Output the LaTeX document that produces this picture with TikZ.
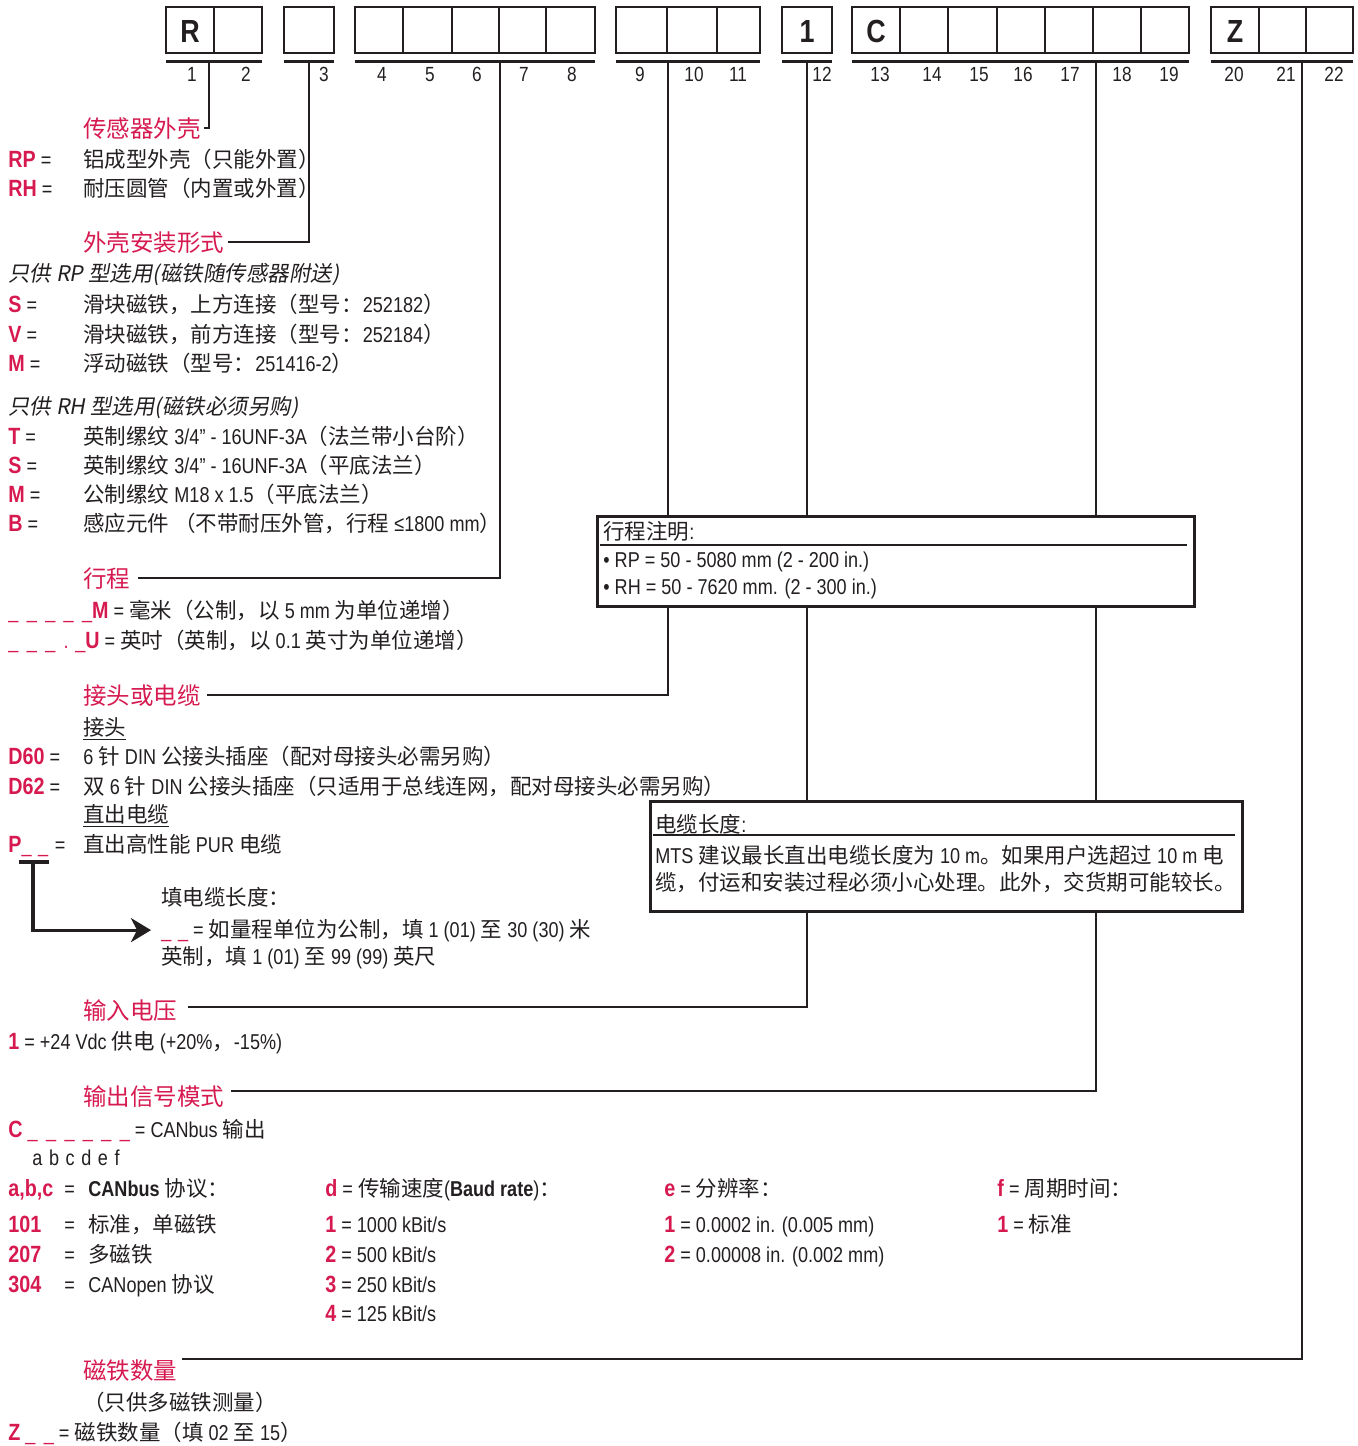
\documentclass[tikz,border=0pt]{standalone}
\usepackage{fontspec}
\usepackage{xcolor}
\usepackage{tikz}
\usetikzlibrary{calc,arrows.meta}
\setmainfont{Liberation Sans}[FakeStretch=0.84]
\newfontfamily\cjkfont{Noto Sans CJK SC}
\newfontfamily\cjkslantfont{Noto Sans CJK SC}[FakeSlant=0.18]
\definecolor{mtsred}{RGB}{214,26,80}
\definecolor{ink}{RGB}{35,31,32}

% CJK characters switch to the CJK font by themselves
\XeTeXinterchartokenstate=1
\newXeTeXintercharclass\cjkclass
\newcount\cjkcode
\cjkcode="3000 \loop\XeTeXcharclass\cjkcode=\cjkclass \ifnum\cjkcode<"303F \advance\cjkcode by 1 \repeat
\cjkcode="4E00 \loop\XeTeXcharclass\cjkcode=\cjkclass \ifnum\cjkcode<"9FFF \advance\cjkcode by 1 \repeat
\cjkcode="FF01 \loop\XeTeXcharclass\cjkcode=\cjkclass \ifnum\cjkcode<"FF5E \advance\cjkcode by 1 \repeat
\XeTeXinterchartoks 0 \cjkclass={\begingroup\cjkfont}
\XeTeXinterchartoks 4095 \cjkclass={\begingroup\cjkfont}
\XeTeXinterchartoks \cjkclass 0={\endgroup}
\XeTeXinterchartoks \cjkclass 4095={\endgroup}

\newcommand\redkey[1]{{\color{mtsred}\fontsize{11.75}{14}\selectfont\bfseries #1}}
\newcommand\redmark[1]{{\color{mtsred}#1}}
\newcommand\slantcjk{\XeTeXinterchartokenstate=0\relax\cjkslantfont}
\newcommand\blank{\_\hspace{4.2pt}}
\newcommand\sep{\hspace{3.3pt}}

\tikzset{
    cell/.style={line width=1.3pt, draw=ink},
    bar/.style={line width=1.5pt, draw=ink},
    leader/.style={line width=1.2pt, draw=ink},
    notebox/.style={draw=ink, line width=1.3pt, anchor=north west, inner sep=0pt},
    txt/.style={anchor=base west, inner sep=0pt, text=ink, font=\fontsize{10.75}{13}\selectfont},
    head/.style={txt, text=mtsred, font=\fontsize{11.75}{14}\selectfont},
    slanted/.style={txt, font={\fontsize{10.75}{13}\selectfont\slantcjk}},
    num/.style={anchor=base, inner sep=0pt, text=ink, font=\fontsize{10.25}{12}\selectfont},
    letter/.style={inner sep=0pt, text=ink, font=\fontsize{16}{18}\selectfont\bfseries},
    arrowline/.style={line width=1.6pt, draw=ink, -{Stealth[length=10pt,width=12pt,inset=3pt]}},
}

\begin{document}
\begin{tikzpicture}[x=0.5pt,y=-0.5pt]
    \useasboundingbox (0,0) rectangle (1357,1446);

    % code boxes
    \draw[cell] (166,7) rectangle (262,53) (214,7) -- (214,53);
    \draw[cell] (284,7) rectangle (334,53);
    \draw[cell] (355,7) rectangle (595,53) (403,7) -- (403,53) (452,7) -- (452,53) (499,7) -- (499,53) (546,7) -- (546,53);
    \draw[cell] (616,7) rectangle (760,53) (667,7) -- (667,53) (717,7) -- (717,53);
    \draw[cell] (782,7) rectangle (832,53);
    \draw[cell] (852,7) rectangle (1189,53) (900,7) -- (900,53) (948,7) -- (948,53) (997,7) -- (997,53) (1045,7) -- (1045,53) (1093,7) -- (1093,53) (1141,7) -- (1141,53);
    \draw[cell] (1211,7) rectangle (1353,53) (1259,7) -- (1259,53) (1306,7) -- (1306,53);

    \node[letter] (lR) at (190,31) {R};
    \node[letter] (l1) at (807,31) {1};
    \node[letter] (lC) at (876,31) {C};
    \node[letter] (lZ) at (1235,31) {Z};

    \draw[bar] (166,61) -- (262,61);
    \draw[bar] (284,61) -- (334,61);
    \draw[bar] (355,61) -- (595,61);
    \draw[bar] (616,61) -- (760,61);
    \draw[bar] (782,61) -- (832,61);
    \draw[bar] (852,61) -- (1189,61);
    \draw[bar] (1211,61) -- (1353,61);

    \node[num] (n1) at (192,81) {1};
    \node[num] (n2) at (246,81) {2};
    \node[num] (n3) at (324,81) {3};
    \node[num] (n4) at (382,81) {4};
    \node[num] (n5) at (430,81) {5};
    \node[num] (n6) at (477,81) {6};
    \node[num] (n7) at (524,81) {7};
    \node[num] (n8) at (572,81) {8};
    \node[num] (n9) at (640,81) {9};
    \node[num] (n10) at (694,81) {10};
    \node[num] (n11) at (738,81) {11};
    \node[num] (n12) at (822,81) {12};
    \node[num] (n13) at (880,81) {13};
    \node[num] (n14) at (932,81) {14};
    \node[num] (n15) at (979,81) {15};
    \node[num] (n16) at (1023,81) {16};
    \node[num] (n17) at (1070,81) {17};
    \node[num] (n18) at (1122,81) {18};
    \node[num] (n19) at (1169,81) {19};
    \node[num] (n20) at (1234,81) {20};
    \node[num] (n21) at (1286,81) {21};
    \node[num] (n22) at (1334,81) {22};

    \coordinate (t1) at (209,61);
    \coordinate (t2) at (309,61);
    \coordinate (t3) at (500,61);
    \coordinate (t4) at (668,61);
    \coordinate (t5) at (807,61);
    \coordinate (t6) at (1096,61);
    \coordinate (t7) at (1302,61);

    % sensor housing
    \node[head] (housing) at (83,137) {传感器外壳};
    \node[txt] (kRP) at (8,167) {\redkey{RP} =};
    \node[txt] (vRP) at (83,167) {铝成型外壳（只能外置）};
    \node[txt] (kRH) at (8,196) {\redkey{RH} =};
    \node[txt] (vRH) at (83,196) {耐压圆管（内置或外置）};

    % mounting
    \node[head] (mounting) at (83,251) {外壳安装形式};
    \node[slanted] (rponly) at (8,281) {只供 RP 型选用(磁铁随传感器附送)};
    \node[txt] (kS) at (8,312) {\redkey{S} =};
    \node[txt] (vS) at (83,312) {滑块磁铁，上方连接（型号：252182）};
    \node[txt] (kV) at (8,342) {\redkey{V} =};
    \node[txt] (vV) at (83,342) {滑块磁铁，前方连接（型号：252184）};
    \node[txt] (kM) at (8,371) {\redkey{M} =};
    \node[txt] (vM) at (83,371) {浮动磁铁（型号：251416-2）};
    \node[slanted] (rhonly) at (8,414) {只供 RH 型选用(磁铁必须另购)};
    \node[txt] (kT) at (8,444) {\redkey{T} =};
    \node[txt] (vT) at (83,444) {英制缧纹 3/4" - 16UNF-3A（法兰带小台阶）};
    \node[txt] (kS2) at (8,473) {\redkey{S} =};
    \node[txt] (vS2) at (83,473) {英制缧纹 3/4" - 16UNF-3A（平底法兰）};
    \node[txt] (kM2) at (8,502) {\redkey{M} =};
    \node[txt] (vM2) at (83,502) {公制缧纹 M18 x 1.5（平底法兰）};
    \node[txt] (kB) at (8,531) {\redkey{B} =};
    \node[txt] (vB) at (83,531) {感应元件 （不带耐压外管，行程 ≤1800 mm）};

    % stroke
    \node[head] (stroke) at (83,587) {行程};
    \node[txt] (mm) at (8,618) {\redmark{\blank\blank\blank\blank\_}\redkey{M} = 毫米（公制，以 5 mm 为单位递增）};
    \node[txt] (inch) at (8,648) {\redmark{\blank\blank\blank.\sep\_}\redkey{U} = 英吋（英制，以 0.1 英寸为单位递增）};

    % connection
    \node[head] (conn) at (83,704) {接头或电缆};
    \node[txt] (plug) at (83,735) {\underline{接头}};
    \node[txt] (kD60) at (8,764) {\redkey{D60} =};
    \node[txt] (vD60) at (83,764) {6 针 DIN 公接头插座（配对母接头必需另购）};
    \node[txt] (kD62) at (8,794) {\redkey{D62} =};
    \node[txt] (vD62) at (83,794) {双 6 针 DIN 公接头插座（只适用于总线连网，配对母接头必需另购）};
    \node[txt] (cable) at (83,822) {\underline{直出电缆}};
    \node[txt] (kP) at (8,852) {\redkey{P}\redmark{\_\sep\_}\sep=};
    \node[txt] (vP) at (83,852) {直出高性能 PUR 电缆};
    \node[txt] (fill) at (161,905) {填电缆长度：};
    \node[txt] (lenm) at (161,937) {\redmark{\_\sep\_} = 如量程单位为公制，填 1 (01) 至 30 (30) 米};
    \node[txt] (leni) at (161,964) {英制，填 1 (01) 至 99 (99) 英尺};

    \draw[line width=2pt, draw=ink] (19,862) -- (49,862);
    \coordinate (pbar) at (33,862);
    \draw[arrowline] (pbar) |- ($(lenm.west)+(-10,0)$);

    % supply voltage
    \node[head] (supply) at (83,1019) {输入电压};
    \node[txt] (k1) at (8,1049) {\redkey{1} = +24 Vdc 供电 (+20\%，-15\%)};

    % output
    \node[head] (output) at (83,1105) {输出信号模式};
    \node[txt] (cform) at (8,1137) {\redkey{C} \redmark{\blank\blank\blank\blank\blank\_} = CANbus 输出};
    \node[txt] (abc) at (32,1165) {a\sep b\sep c\sep d\sep e\sep f};

    \node[txt] (kabc) at (8,1196) {\redkey{a,b,c}};
    \node[txt] (eabc) at (64,1196) {=};
    \node[txt] (vabc) at (88,1196) {\textbf{CANbus} 协议：};
    \node[txt] (k101) at (8,1232) {\redkey{101}};
    \node[txt] (e101) at (64,1232) {=};
    \node[txt] (v101) at (88,1232) {标准，单磁铁};
    \node[txt] (k207) at (8,1262) {\redkey{207}};
    \node[txt] (e207) at (64,1262) {=};
    \node[txt] (v207) at (88,1262) {多磁铁};
    \node[txt] (k304) at (8,1292) {\redkey{304}};
    \node[txt] (e304) at (64,1292) {=};
    \node[txt] (v304) at (88,1292) {CANopen 协议};

    \node[txt] (dhead) at (325,1196) {\redkey{d} = 传输速度(\textbf{Baud rate})：};
    \node[txt] (d1) at (325,1232) {\redkey{1} = 1000 kBit/s};
    \node[txt] (d2) at (325,1262) {\redkey{2} = 500 kBit/s};
    \node[txt] (d3) at (325,1292) {\redkey{3} = 250 kBit/s};
    \node[txt] (d4) at (325,1321) {\redkey{4} = 125 kBit/s};

    \node[txt] (ehead) at (664,1196) {\redkey{e} = 分辨率：};
    \node[txt] (e1) at (664,1232) {\redkey{1} = 0.0002 in. (0.005 mm)};
    \node[txt] (e2) at (664,1262) {\redkey{2} = 0.00008 in. (0.002 mm)};

    \node[txt] (fhead) at (997,1196) {\redkey{f} = 周期时间：};
    \node[txt] (f1) at (997,1232) {\redkey{1} = 标准};

    % magnets
    \node[head] (magnets) at (83,1379) {磁铁数量};
    \node[txt] (multi) at (83,1410) {（只供多磁铁测量）};
    \node[txt] (kZ) at (8,1440) {\redkey{Z} \redmark{\blank\_} = 磁铁数量（填 02 至 15）};

    % notes
    \node[notebox, minimum width=298.5pt, minimum height=45pt] (strokenote) at (596,515) {};
    \draw[line width=1.3pt, draw=ink] (600,545) -- (1187,545);
    \node[txt] (sn0) at (603,539) {行程注明:};
    \node[txt] (sn1) at (603,567) {• RP = 50 - 5080 mm (2 - 200 in.)};
    \node[txt] (sn2) at (603,594) {• RH = 50 - 7620 mm. (2 - 300 in.)};

    \node[notebox, minimum width=296pt, minimum height=55pt] (cablenote) at (649,800) {};
    \draw[line width=1.3pt, draw=ink] (653,835) -- (1235,835);
    \node[txt] (cn0) at (655,832) {电缆长度:};
    \node[txt] (cn1) at (655,863) {MTS 建议最长直出电缆长度为 10 m。如果用户选超过 10 m 电};
    \node[txt] (cn2) at (655,890) {缆，付运和安装过程必须小心处理。此外，交货期可能较长。};

    % leaders
    \draw[leader] (t1) |- ($(housing.east)+(3,0)$);
    \draw[leader] (t2) |- ($(mounting.east)+(3,0)$);
    \draw[leader] (t3) |- ($(stroke.east)+(7,0)$);
    \draw[leader] (t4) -- (t4 |- strokenote.north);
    \draw[leader] (t4 |- strokenote.south) |- ($(conn.east)+(6,0)$);
    \draw[leader] (t5) -- (t5 |- strokenote.north);
    \draw[leader] (t5 |- strokenote.south) -- (t5 |- cablenote.north);
    \draw[leader] (t5 |- cablenote.south) |- ($(supply.east)+(10,-3)$);
    \draw[leader] (t6) -- (t6 |- strokenote.north);
    \draw[leader] (t6 |- strokenote.south) -- (t6 |- cablenote.north);
    \draw[leader] (t6 |- cablenote.south) |- ($(output.east)+(6,-5)$);
    \draw[leader] (t7) |- ($(magnets.north east)+(4,0)$);
\end{tikzpicture}
\end{document}
